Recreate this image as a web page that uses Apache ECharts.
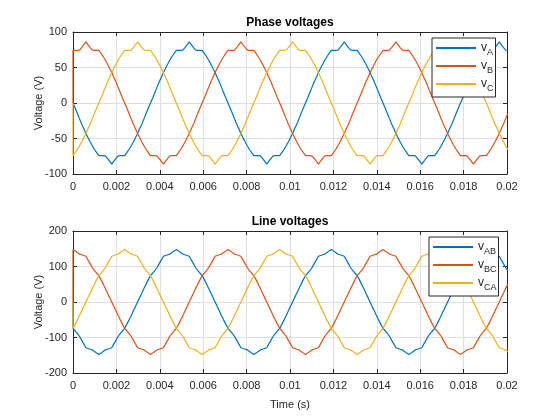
<!DOCTYPE html>
<html>
<head>
<meta charset="utf-8">
<script src="https://cdn.jsdelivr.net/npm/echarts@6/dist/echarts.min.js"></script>
<style>html,body{margin:0;padding:0;background:#fff}#c{width:560px;height:420px}</style>
</head>
<body>
<div id="c"></div>
<script>
// sample times in microseconds (first sample duplicated at t = 0)
const timeUs = [0,
0,99,198,298,397,496,595,694,794,893,992,1091,1190,1290,1389,1488,1587,1687,1786,1885,1984,2083,2183,2282,2381,2480,2579,2679,2778,2877,2976,3075,3175,3274,3373,3472,3571,3671,3770,3869,3968,4067,4167,4266,4365,4464,4563,4663,4762,4861,4960,5060,5159,5258,5357,5456,5556,5655,5754,5853,5952,6052,6151,6250,6349,6448,6548,6647,6746,6845,6944,7044,
7143,7242,7341,7440,7540,7639,7738,7837,7937,8036,8135,8234,8333,8433,8532,8631,8730,8829,8929,9028,9127,9226,9325,9425,9524,9623,9722,9821,9921,10020,10119,10218,10317,10417,10516,10615,10714,10813,10913,11012,11111,11210,11310,11409,11508,11607,11706,11806,11905,12004,12103,12202,12302,12401,12500,12599,12698,12798,12897,12996,13095,13194,13294,13393,13492,13591,13690,13790,13889,13988,14087,14187,
14286,14385,14484,14583,14683,14782,14881,14980,15079,15179,15278,15377,15476,15575,15675,15774,15873,15972,16071,16171,16270,16369,16468,16567,16667,16766,16865,16964,17063,17163,17262,17361,17460,17560,17659,17758,17857,17956,18056,18155,18254,18353,18452,18552,18651,18750,18849,18948,19048,19147,19246,19345,19444,19544,19643,19742,19841,19940,20040];

// Phase voltages (V)
const vA = [0,
0,-7,-14.5,-22,-29.5,-36,-43,-49,-55,-60.5,-65.5,-70,-74,-74,-74,-74.5,-78,-82,-86,-82,-78,-74.5,-74,-74,-74,-70,-65.5,-60.5,-55,-49,-43,-36,-29.5,-22,-14.5,-7,0,7,14.5,22,29.5,36,43,49,55,60.5,65.5,70,74,74,74,74.5,78,82,86,82,78,74.5,74,74,74,70,65.5,60.5,55,49,43,36,29.5,22,14.5,7,
0,-7,-14.5,-22,-29.5,-36,-43,-49,-55,-60.5,-65.5,-70,-74,-74,-74,-74.5,-78,-82,-86,-82,-78,-74.5,-74,-74,-74,-70,-65.5,-60.5,-55,-49,-43,-36,-29.5,-22,-14.5,-7,0,7,14.5,22,29.5,36,43,49,55,60.5,65.5,70,74,74,74,74.5,78,82,86,82,78,74.5,74,74,74,70,65.5,60.5,55,49,43,36,29.5,22,14.5,7,
0,-7,-14.5,-22,-29.5,-36,-43,-49,-55,-60.5,-65.5,-70,-74,-74,-74,-74.5,-78,-82,-86,-82,-78,-74.5,-74,-74,-74,-70,-65.5,-60.5,-55,-49,-43,-36,-29.5,-22,-14.5,-7,0,7,14.5,22,29.5,36,43,49,55,60.5,65.5,70,74,74,74,74.5,78,82,86,82,78,74.5,74];

const vB = [0,
74,74,74,74.5,78,82,86,82,78,74.5,74,74,74,70,65.5,60.5,55,49,43,36,29.5,22,14.5,7,
0,-7,-14.5,-22,-29.5,-36,-43,-49,-55,-60.5,-65.5,-70,-74,-74,-74,-74.5,-78,-82,-86,-82,-78,-74.5,-74,-74,-74,-70,-65.5,-60.5,-55,-49,-43,-36,-29.5,-22,-14.5,-7,0,7,14.5,22,29.5,36,43,49,55,60.5,65.5,70,74,74,74,74.5,78,82,86,82,78,74.5,74,74,74,70,65.5,60.5,55,49,43,36,29.5,22,14.5,7,
0,-7,-14.5,-22,-29.5,-36,-43,-49,-55,-60.5,-65.5,-70,-74,-74,-74,-74.5,-78,-82,-86,-82,-78,-74.5,-74,-74,-74,-70,-65.5,-60.5,-55,-49,-43,-36,-29.5,-22,-14.5,-7,0,7,14.5,22,29.5,36,43,49,55,60.5,65.5,70,74,74,74,74.5,78,82,86,82,78,74.5,74,74,74,70,65.5,60.5,55,49,43,36,29.5,22,14.5,7,
0,-7,-14.5,-22,-29.5,-36,-43,-49,-55,-60.5,-65.5,-70,-74,-74,-74,-74.5,-78,-82,-86,-82,-78,-74.5,-74,-74,-74,-70,-65.5,-60.5,-55,-49,-43,-36,-29.5,-22,-14.5];

const vC = [0,
-74,-70,-65.5,-60.5,-55,-49,-43,-36,-29.5,-22,-14.5,-7,0,7,14.5,22,29.5,36,43,49,55,60.5,65.5,70,74,74,74,74.5,78,82,86,82,78,74.5,74,74,74,70,65.5,60.5,55,49,43,36,29.5,22,14.5,7,
0,-7,-14.5,-22,-29.5,-36,-43,-49,-55,-60.5,-65.5,-70,-74,-74,-74,-74.5,-78,-82,-86,-82,-78,-74.5,-74,-74,-74,-70,-65.5,-60.5,-55,-49,-43,-36,-29.5,-22,-14.5,-7,0,7,14.5,22,29.5,36,43,49,55,60.5,65.5,70,74,74,74,74.5,78,82,86,82,78,74.5,74,74,74,70,65.5,60.5,55,49,43,36,29.5,22,14.5,7,
0,-7,-14.5,-22,-29.5,-36,-43,-49,-55,-60.5,-65.5,-70,-74,-74,-74,-74.5,-78,-82,-86,-82,-78,-74.5,-74,-74,-74,-70,-65.5,-60.5,-55,-49,-43,-36,-29.5,-22,-14.5,-7,0,7,14.5,22,29.5,36,43,49,55,60.5,65.5,70,74,74,74,74.5,78,82,86,82,78,74.5,74,74,74,70,65.5,60.5,55,49,43,36,29.5,22,14.5,7,
0,-7,-14.5,-22,-29.5,-36,-43,-49,-55,-60.5,-65.5];

// Line voltages (V)
const vAB = [0,
-74,-81,-88.5,-96.5,-107.5,-118,-129,-131,-133,-135,-139.5,-144,-148,-144,-139.5,-135,-133,-131,-129,-118,-107.5,-96.5,-88.5,-81,-74,-63,-51,-38.5,-25.5,-13,0,13,25.5,38.5,51,63,74,81,88.5,96.5,107.5,118,129,131,133,135,139.5,144,148,144,139.5,135,133,131,129,118,107.5,96.5,88.5,81,74,63,51,38.5,25.5,13,0,-13,-25.5,-38.5,-51,-63,
-74,-81,-88.5,-96.5,-107.5,-118,-129,-131,-133,-135,-139.5,-144,-148,-144,-139.5,-135,-133,-131,-129,-118,-107.5,-96.5,-88.5,-81,-74,-63,-51,-38.5,-25.5,-13,0,13,25.5,38.5,51,63,74,81,88.5,96.5,107.5,118,129,131,133,135,139.5,144,148,144,139.5,135,133,131,129,118,107.5,96.5,88.5,81,74,63,51,38.5,25.5,13,0,-13,-25.5,-38.5,-51,-63,
-74,-81,-88.5,-96.5,-107.5,-118,-129,-131,-133,-135,-139.5,-144,-148,-144,-139.5,-135,-133,-131,-129,-118,-107.5,-96.5,-88.5,-81,-74,-63,-51,-38.5,-25.5,-13,0,13,25.5,38.5,51,63,74,81,88.5,96.5,107.5,118,129,131,133,135,139.5,144,148,144,139.5,135,133,131,129,118,107.5,96.5,88.5];

const vBC = [0,
148,144,139.5,135,133,131,129,118,107.5,96.5,88.5,81,74,63,51,38.5,25.5,13,0,-13,-25.5,-38.5,-51,-63,
-74,-81,-88.5,-96.5,-107.5,-118,-129,-131,-133,-135,-139.5,-144,-148,-144,-139.5,-135,-133,-131,-129,-118,-107.5,-96.5,-88.5,-81,-74,-63,-51,-38.5,-25.5,-13,0,13,25.5,38.5,51,63,74,81,88.5,96.5,107.5,118,129,131,133,135,139.5,144,148,144,139.5,135,133,131,129,118,107.5,96.5,88.5,81,74,63,51,38.5,25.5,13,0,-13,-25.5,-38.5,-51,-63,
-74,-81,-88.5,-96.5,-107.5,-118,-129,-131,-133,-135,-139.5,-144,-148,-144,-139.5,-135,-133,-131,-129,-118,-107.5,-96.5,-88.5,-81,-74,-63,-51,-38.5,-25.5,-13,0,13,25.5,38.5,51,63,74,81,88.5,96.5,107.5,118,129,131,133,135,139.5,144,148,144,139.5,135,133,131,129,118,107.5,96.5,88.5,81,74,63,51,38.5,25.5,13,0,-13,-25.5,-38.5,-51,-63,
-74,-81,-88.5,-96.5,-107.5,-118,-129,-131,-133,-135,-139.5,-144,-148,-144,-139.5,-135,-133,-131,-129,-118,-107.5,-96.5,-88.5,-81,-74,-63,-51,-38.5,-25.5,-13,0,13,25.5,38.5,51];

const vCA = [0,
-74,-63,-51,-38.5,-25.5,-13,0,13,25.5,38.5,51,63,74,81,88.5,96.5,107.5,118,129,131,133,135,139.5,144,148,144,139.5,135,133,131,129,118,107.5,96.5,88.5,81,74,63,51,38.5,25.5,13,0,-13,-25.5,-38.5,-51,-63,
-74,-81,-88.5,-96.5,-107.5,-118,-129,-131,-133,-135,-139.5,-144,-148,-144,-139.5,-135,-133,-131,-129,-118,-107.5,-96.5,-88.5,-81,-74,-63,-51,-38.5,-25.5,-13,0,13,25.5,38.5,51,63,74,81,88.5,96.5,107.5,118,129,131,133,135,139.5,144,148,144,139.5,135,133,131,129,118,107.5,96.5,88.5,81,74,63,51,38.5,25.5,13,0,-13,-25.5,-38.5,-51,-63,
-74,-81,-88.5,-96.5,-107.5,-118,-129,-131,-133,-135,-139.5,-144,-148,-144,-139.5,-135,-133,-131,-129,-118,-107.5,-96.5,-88.5,-81,-74,-63,-51,-38.5,-25.5,-13,0,13,25.5,38.5,51,63,74,81,88.5,96.5,107.5,118,129,131,133,135,139.5,144,148,144,139.5,135,133,131,129,118,107.5,96.5,88.5,81,74,63,51,38.5,25.5,13,0,-13,-25.5,-38.5,-51,-63,
-74,-81,-88.5,-96.5,-107.5,-118,-129,-131,-133,-135,-139.5];

const phaseNames = ['vA', 'vB', 'vC'];
const lineNames = ['vAB', 'vBC', 'vCA'];
const xTickLabels = ['0','0.002','0.004','0.006','0.008','0.01','0.012','0.014','0.016','0.018','0.02'];
const phaseTicks = [-100, -50, 0, 50, 100];
const lineTicks = [-200, -100, 0, 100, 200];
const colors = ['#0072BD', '#D95319', '#EDB120'];

const time = timeUs.map(u => u / 1e6);
const pairs = arr => time.map((t, i) => [t, arr[i]]);

const FONT = 'Liberation Sans, Arial, Helvetica, sans-serif';
const INK = '#262626';

function xAx(grid, pos, showName) {
  return {
    type: 'value', gridIndex: grid, position: pos,
    min: 0, max: 0.02, interval: 0.002,
    name: showName ? 'Time (s)' : '', nameLocation: 'middle', nameGap: 26, nameMoveOverlap: false,
    nameTextStyle: {color: INK, fontSize: 11, fontFamily: FONT},
    axisLine: {show: true, onZero: false, lineStyle: {color: INK, width: 1}},
    axisTick: {show: true, inside: true, length: 4, lineStyle: {color: INK}},
    axisLabel: {show: pos === 'bottom', color: INK, fontSize: 11, fontFamily: FONT, margin: 7,
      formatter: v => xTickLabels[Math.round(v / 0.002)]},
    splitLine: {show: pos === 'bottom', lineStyle: {color: '#dfdfdf', width: 1}}
  };
}
function yAx(grid, pos, ticks) {
  return {
    type: 'value', gridIndex: grid, position: pos,
    min: ticks[0], max: ticks[ticks.length - 1], interval: ticks[1] - ticks[0],
    name: pos === 'left' ? 'Voltage (V)' : '', nameLocation: 'middle', nameGap: 29, nameMoveOverlap: false,
    nameTextStyle: {color: INK, fontSize: 11, fontFamily: FONT},
    axisLine: {show: true, onZero: false, lineStyle: {color: INK, width: 1}},
    axisTick: {show: true, inside: true, length: 4, lineStyle: {color: INK}},
    axisLabel: {show: pos === 'left', color: INK, fontSize: 11, fontFamily: FONT, margin: 6},
    splitLine: {show: pos === 'left', lineStyle: {color: '#dfdfdf', width: 1}}
  };
}
function legend(names, left, top) {
  return {
    data: names, orient: 'vertical', left: left, top: top,
    itemWidth: 40, itemHeight: 14, itemGap: 3,
    padding: [4, 2, 4, 3],
    borderColor: INK, borderWidth: 1, backgroundColor: '#fff', borderRadius: 0,
    selectedMode: false,
    itemStyle: {opacity: 0},
    formatter: n => '{v|v}{s|' + n.slice(1) + '}',
    textStyle: {color: INK, fontFamily: FONT, fontSize: 11,
      rich: {
        v: {fontSize: 12, lineHeight: 12, verticalAlign: 'top', color: INK, fontFamily: FONT},
        s: {fontSize: 9, lineHeight: 9, padding: [6, 0, 0, 0], verticalAlign: 'top', color: INK, fontFamily: FONT}
      }}
  };
}
function ser(name, arr, idx, axis) {
  return {
    name: name, type: 'line', data: pairs(arr), xAxisIndex: axis, yAxisIndex: axis,
    symbol: 'none', showSymbol: false, clip: true,
    lineStyle: {color: colors[idx], width: 1.2}, itemStyle: {color: colors[idx]},
    emphasis: {disabled: true}
  };
}

const chart = echarts.init(document.getElementById('c'), null, {renderer: 'canvas'});
chart.setOption({
  animation: false,
  backgroundColor: '#fff',
  title: [
    {text: 'Phase voltages', left: 290, top: 17, textAlign: 'center', padding: 0,
     textStyle: {fontSize: 12, fontWeight: 'bold', color: '#000', fontFamily: FONT}},
    {text: 'Line voltages', left: 290, top: 216, textAlign: 'center', padding: 0,
     textStyle: {fontSize: 12, fontWeight: 'bold', color: '#000', fontFamily: FONT}}
  ],
  grid: [
    {left: 73, right: 53, top: 32, height: 142},
    {left: 73, right: 53, top: 231, height: 142}
  ],
  xAxis: [xAx(0, 'bottom', false), xAx(1, 'bottom', true), xAx(0, 'top', false), xAx(1, 'top', false)],
  yAxis: [yAx(0, 'left', phaseTicks), yAx(1, 'left', lineTicks), yAx(0, 'right', phaseTicks), yAx(1, 'right', lineTicks)],
  legend: [legend(phaseNames, 432, 38), legend(lineNames, 429, 237)],
  series: [
    ser('vA', vA, 0, 0), ser('vB', vB, 1, 0), ser('vC', vC, 2, 0),
    ser('vAB', vAB, 0, 1), ser('vBC', vBC, 1, 1), ser('vCA', vCA, 2, 1)
  ]
});
</script>
</body>
</html>
